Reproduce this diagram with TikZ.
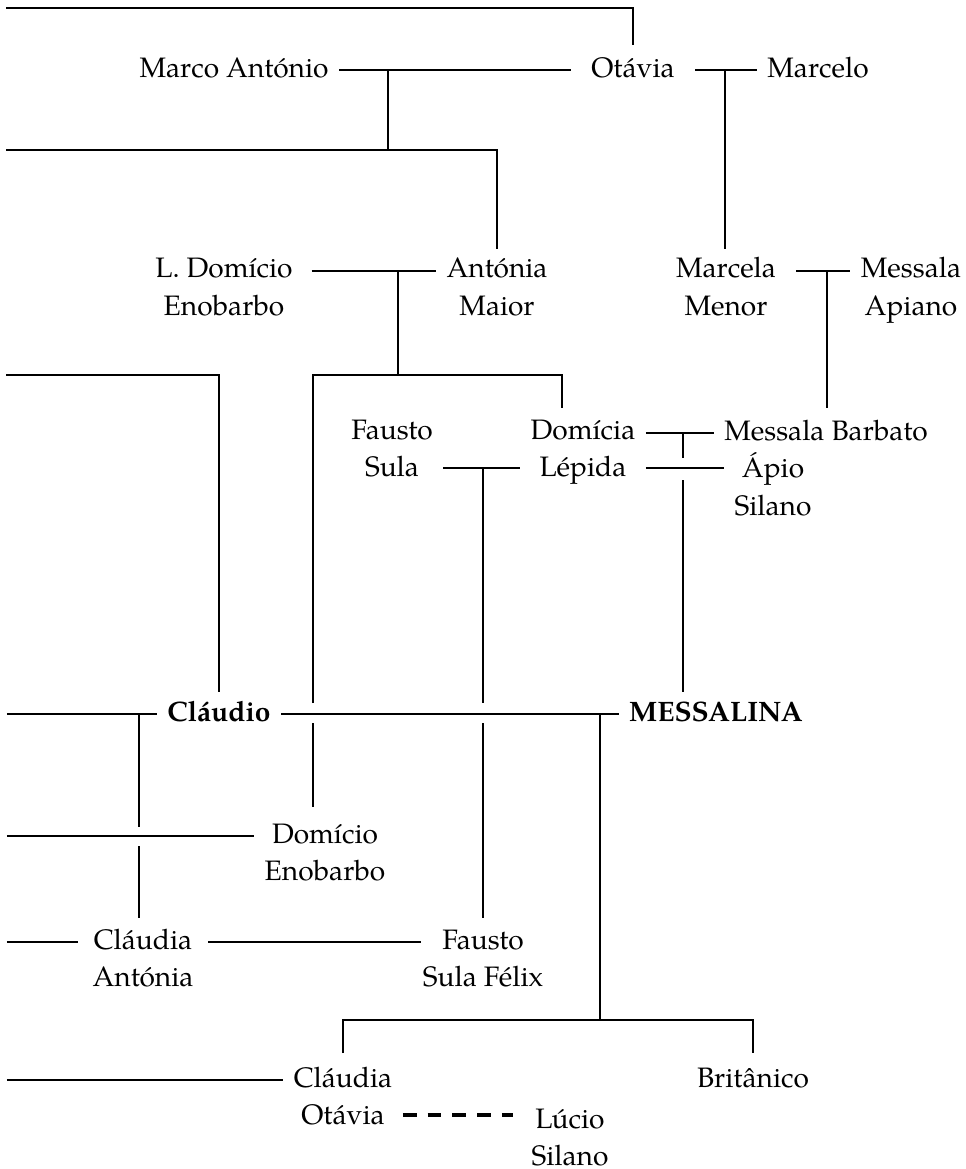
\documentclass[tikz,border=0pt]{standalone}
\usepackage{fontspec}
\setmainfont{TeX Gyre Pagella}
\begin{document}
\begin{tikzpicture}[x=0.0125cm,y=-0.0125cm,
  line width=0.5pt,
  person/.style={font=\fontsize{10}{13.16}\selectfont, align=center, anchor=base, inner xsep=3.5pt, inner ysep=0pt},
  key/.style={person, font=\fontsize{10}{13.16}\selectfont\bfseries},
  liaison/.style={line width=1.1pt, dash pattern=on 4.9pt off 3.9pt, shorten >=3pt}]
\useasboundingbox (0,0) rectangle (966,1169);

% people (anchor base = baseline of the last line)
\node[person] (marco) at (234,77) {Marco António};
\node[person, inner xsep=7pt] (otavia) at (633,77) {Otávia};
\node[person] (marcelo) at (818,77) {Marcelo};
\node[person, inner xsep=6.5pt] (ldomicio) at (224,315) {L. Domício\\Enobarbo};
\node[person] (antonia) at (497,315) {Antónia\\Maior};
\node[person, inner xsep=7pt] (marcela) at (726,315) {Marcela\\Menor};
\node[person] (mapiano) at (911,315) {Messala\\Apiano};
\node[person] (fsula) at (392,476) {Fausto\\Sula};
\node[person] (domicia) at (583,476) {Domícia\\Lépida};
\node[person] (mbarbato) at (826,440) {Messala Barbato};
\node[person] (apio) at (773,515) {Ápio\\Silano};
\node[key] (claudio) at (219,721) {Cláudio};
\node[key] (messalina) at (716,721) {MESSALINA};
\node[person] (denobarbo) at (325,880) {Domício\\Enobarbo};
\node[person, inner xsep=5pt] (cantonia) at (143,986) {Cláudia\\Antónia};
\node[person, inner xsep=0.5pt] (fsfelix) at (483,986) {Fausto\\Sula Félix};
\node[person] (cotavia) at (343,1124) {Cláudia\\Otávia};
\node[person] (britanico) at (753,1087) {Britânico};
\node[person] (lsilano) at (570,1165) {Lúcio\\Silano};

% free ends on the left
\coordinate (e1) at (6,8);
\coordinate (e2) at (6,150);
\coordinate (e3) at (6,375);
\coordinate (e4) at (7,714);
\coordinate (e5) at (7,836);
\coordinate (e6) at (7,942);
\coordinate (e7) at (7,1080);

% generation 1
\draw (e1) -- (otavia |- e1) -- (otavia |- 0,45);
\draw (marco.east |- 0,70) -- (otavia.west |- 0,70);
\draw (388,70) -- (388,150);
\draw (e2) -- (antonia |- e2) -- (antonia |- 0,249);
\draw (otavia.east |- 0,70) -- (marcelo.west |- 0,70);
\draw (725,70) -- (725,249);

% generation 2
\draw (ldomicio.east |- 0,271) -- (antonia.west |- 0,271);
\draw (398,271) -- (398,375);
\draw (313,703) -- (313,375) -- (562,375) -- (562,408);
\draw (313,723) -- (313,807);
\draw (marcela.east |- 0,271) -- (mapiano.west |- 0,271);
\draw (827,271) -- (827,408);
\draw (e3) -- (claudio |- e3) -- (claudio |- 0,692);

% generation 3
\draw (domicia.east |- 0,433) -- (mbarbato.west |- 0,433);
\draw (683,433) -- (683,458);
\draw (683,480) -- (683,692);
\draw (domicia.east |- 0,468) -- (apio.west |- 0,468);
\draw (fsula.east |- 0,468) -- (domicia.west |- 0,468);
\draw (483,468) -- (483,703);
\draw (483,723) -- (fsfelix |- 0,918);

% Claudio's marriages
\draw (e4) -- (claudio.west |- e4);
\draw (139,714) -- (139,827);
\draw (139,846) -- (139,918);
\draw (claudio.east |- 0,714) -- (messalina.west |- 0,714);
\draw (600,714) -- (600,1020);
\draw (cotavia |- 0,1053) -- (cotavia |- 0,1020) -- (britanico |- 0,1020) -- (britanico |- 0,1053);

% further marriages
\draw (e5) -- (denobarbo.west |- e5);
\draw (e6) -- (cantonia.west |- e6);
\draw (cantonia.east |- 0,942) -- (fsfelix.west |- 0,942);
\draw (e7) -- (cotavia.west |- e7);
\draw[liaison] (cotavia.east |- 0,1115) -- (lsilano.west |- 0,1115);
\end{tikzpicture}
\end{document}
